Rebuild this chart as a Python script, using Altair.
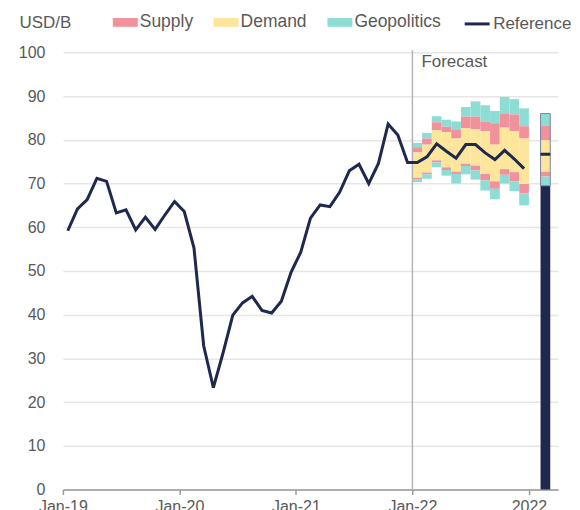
import altair as alt
import pandas as pd

# ---------------- data ----------------
# monthly reference price (USD/B), month index 0 = Jan-19
hist_months = list(range(0, 37))
hist_values = [59.2, 64.2, 66.3, 71.2, 70.5, 63.3, 64.0, 59.4, 62.3, 59.5, 62.8, 65.9,
               63.6, 55.3, 32.9, 23.3, 31.3, 39.9, 42.7, 44.2, 41.0, 40.4, 43.1, 49.7,
               54.3, 62.1, 65.1, 64.7, 68.0, 72.9, 74.4, 70.0, 74.6, 83.6, 81.1, 74.8, 74.8]
fc_months = list(range(37, 48))
fc_values = [76.1, 79.1, 77.4, 75.8, 78.9, 78.9, 77.0, 75.5, 77.6, 75.6, 73.4]

# forecast fan (Jan-22 .. Dec-22): cumulative band edges
band_months = list(range(36, 48))
geo_hi = [79.3, 81.6, 85.4, 84.6, 84.2, 87.5, 88.8, 87.9, 86.6, 89.8, 89.3, 87.2]
sup_hi = [78.3, 80.3, 84.0, 83.0, 82.4, 85.3, 85.3, 84.1, 83.8, 85.9, 85.8, 83.1]
dem_hi = [77.1, 78.9, 82.2, 81.7, 80.3, 82.7, 82.4, 82.0, 78.9, 82.8, 82.0, 80.3]
dem_lo = [71.3, 72.5, 75.3, 73.7, 72.7, 74.5, 74.1, 72.2, 70.5, 73.3, 72.6, 69.9]
sup_lo = [70.9, 72.1, 74.8, 73.1, 72.2, 74.0, 73.0, 70.7, 68.8, 72.0, 70.5, 67.7]
geo_lo = [70.3, 71.1, 73.7, 71.8, 70.0, 72.1, 70.9, 68.4, 66.4, 70.0, 68.3, 65.0]

# 2022 annual average column
annual_slot = 49.2
annual_edges = {"geo_lo": 69.5, "sup_lo": 71.6, "dem_lo": 72.7,
                "dem_hi": 79.9, "sup_hi": 83.2, "geo_hi": 86.0}
annual_ref = 76.7

forecast_start = 36
tick_values = [0, 12, 24, 36, 48]
tick_labels = ["Jan-19", "Jan-20", "Jan-21", "Jan-22", "2022"]
y_ticks = list(range(0, 101, 10))

categories = ["Supply", "Demand", "Geopolitics"]
cat_colors = ["#F1919B", "#FDE59B", "#8EDDD5"]
NAVY = "#1F284D"
FONT = "Liberation Sans"
TXT = "#595959"

# ---------------- tables ----------------
line_df = pd.DataFrame({
    "x": [m + 0.5 for m in hist_months + fc_months],
    "v": hist_values + fc_values,
    "series": "Reference",
})

rows = []
for k, m in enumerate(band_months):
    segs = [("Geopolitics", sup_hi[k], geo_hi[k]),
            ("Supply", dem_hi[k], sup_hi[k]),
            ("Demand", dem_lo[k], dem_hi[k]),
            ("Supply", sup_lo[k], dem_lo[k]),
            ("Geopolitics", geo_lo[k], sup_lo[k])]
    for cat, lo, hi in segs:
        rows.append({"x": m, "x2": m + 1, "y": lo, "y2": hi, "cat": cat})
band_df = pd.DataFrame(rows)

a = annual_edges
annual_df = pd.DataFrame([
    {"x": annual_slot, "x2": annual_slot + 1, "y": a["sup_hi"], "y2": a["geo_hi"], "cat": "Geopolitics"},
    {"x": annual_slot, "x2": annual_slot + 1, "y": a["dem_hi"], "y2": a["sup_hi"], "cat": "Supply"},
    {"x": annual_slot, "x2": annual_slot + 1, "y": a["dem_lo"], "y2": a["dem_hi"], "cat": "Demand"},
    {"x": annual_slot, "x2": annual_slot + 1, "y": a["sup_lo"], "y2": a["dem_lo"], "cat": "Supply"},
    {"x": annual_slot, "x2": annual_slot + 1, "y": a["geo_lo"], "y2": a["sup_lo"], "cat": "Geopolitics"},
])
base_df = pd.DataFrame([{"x": annual_slot, "x2": annual_slot + 1, "y": 0, "y2": a["geo_lo"]}])
outline_df = pd.DataFrame([{"x": annual_slot, "x2": annual_slot + 1, "y": a["geo_lo"], "y2": a["geo_hi"]}])
ref_df = pd.DataFrame([{"x": annual_slot, "x2": annual_slot + 1, "y": annual_ref}])
fc_df = pd.DataFrame([{"x": forecast_start, "label": "Forecast"}])

# ---------------- scales / axes ----------------
label_expr = "[" + ",".join("'%s'" % t for t in tick_labels) + "][round(datum.value/12)]"
xscale = alt.Scale(domain=[0, 51], nice=False, zero=False)
yscale = alt.Scale(domain=[0, 100], nice=False)
xaxis = alt.Axis(values=tick_values, labelExpr=label_expr, grid=False, title=None,
                 domainColor="#9a9a9a", domainWidth=1.5, tickColor="#9a9a9a", tickWidth=1.5,
                 tickSize=5, labelFontSize=16, labelFont=FONT, labelColor=TXT,
                 labelPadding=4, labelFlush=False, labelOverlap=False)
yaxis = alt.Axis(values=y_ticks, grid=True, gridColor="#e6e6e6", gridWidth=1.5,
                 domain=False, ticks=False, labelPadding=18, labelFontSize=16,
                 labelFont=FONT, labelColor=TXT,
                 title="USD/B", titleAngle=0, titleX=-44, titleY=-30, titleAlign="left",
                 titleBaseline="middle", titleFontSize=17, titleFontWeight="normal",
                 titleFont=FONT, titleColor=TXT)


def X(f="x:Q"):
    return alt.X(f, scale=xscale, axis=xaxis)


def Y(f="y:Q"):
    return alt.Y(f, scale=yscale, axis=yaxis)


color_enc = alt.Color(
    "cat:N",
    scale=alt.Scale(domain=categories, range=cat_colors),
    legend=alt.Legend(orient="none", legendX=50, legendY=-42.5, direction="horizontal",
                      title=None, symbolType="M-1,-0.35H1V0.35H-1Z", symbolSize=625,
                      symbolStrokeWidth=0, labelFontSize=17.5, labelFont=FONT,
                      labelColor=TXT, labelOffset=2, columnPadding=20, padding=0),
)

bands = alt.Chart(band_df).mark_rect().encode(x=X(), x2="x2", y=Y(), y2="y2", color=color_enc)

base_bar = alt.Chart(base_df).mark_rect(color=NAVY).encode(x=X(), x2="x2", y=Y(), y2="y2")
annual = alt.Chart(annual_df).mark_rect().encode(x=X(), x2="x2", y=Y(), y2="y2", color=color_enc)
outline = alt.Chart(outline_df).mark_rect(fill=None, stroke="#7d8299", strokeWidth=1).encode(
    x=X(), x2="x2", y=Y(), y2="y2")
annual_ref_rule = alt.Chart(ref_df).mark_rule(color=NAVY, strokeWidth=3).encode(
    x=X(), x2="x2", y=Y())

fc_rule = alt.Chart(fc_df).mark_rule(color="#b5b5b5", strokeWidth=1.5).encode(
    x=X(), y=alt.value(438), y2=alt.value(-2))
fc_text = alt.Chart(fc_df).mark_text(align="left", baseline="middle", dx=9, fontSize=17,
                                     font=FONT, color=TXT).encode(
    x=X(), y=alt.value(10), text="label:N")

line = alt.Chart(line_df).mark_line(strokeWidth=3).encode(
    x=X(), y=Y("v:Q"),
    stroke=alt.Stroke("series:N", scale=alt.Scale(domain=["Reference"], range=[NAVY]),
                      legend=alt.Legend(orient="none", legendX=401, legendY=-42.5, title=None,
                                        symbolType="stroke", symbolSize=625,
                                        symbolStrokeWidth=3, labelFontSize=17,
                                        labelFont=FONT, labelColor=TXT, labelOffset=2,
                                        padding=0)),
)

chart = alt.layer(bands, fc_rule, fc_text, line, base_bar, annual, outline, annual_ref_rule).properties(
    width=496, height=438,
    autosize=alt.AutoSizeParams(type="none"),
    padding={"left": 55, "top": 44, "right": 14, "bottom": 20},
).configure_view(stroke=None).resolve_scale(color="shared")

chart.save("out.html", embed_options={"renderer": "svg", "actions": False})
